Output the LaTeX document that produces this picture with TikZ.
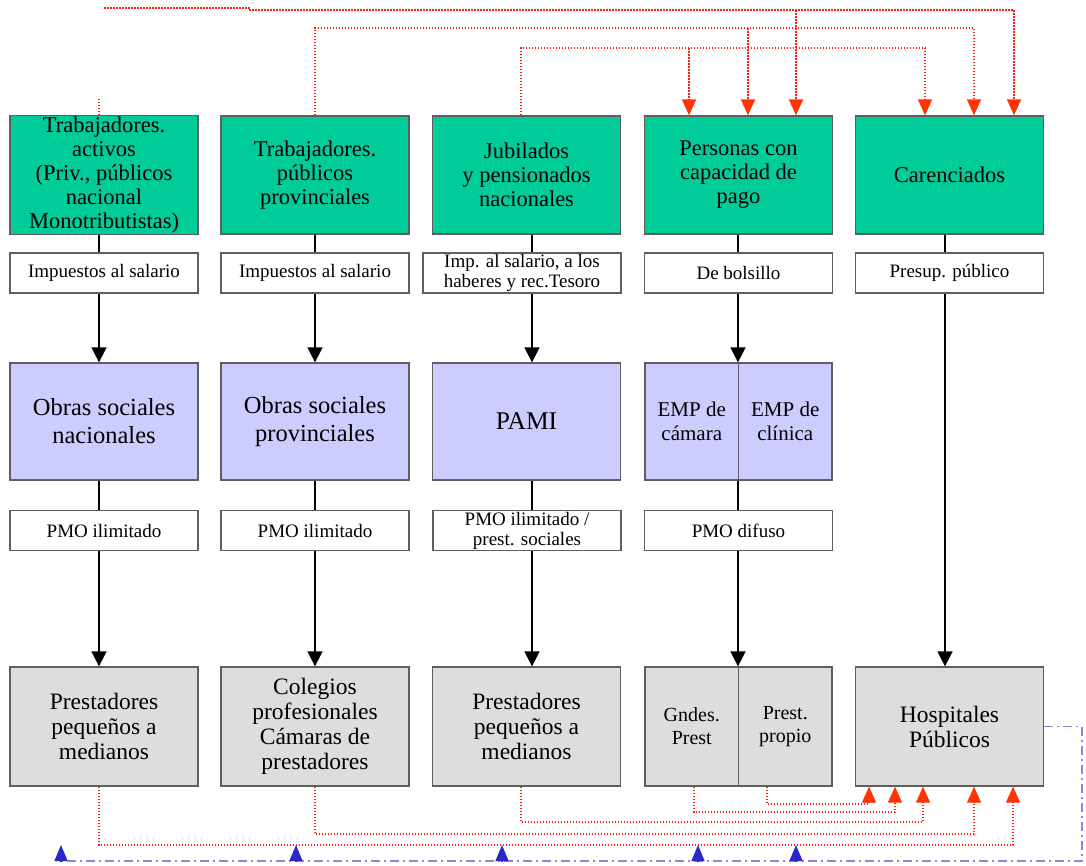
\documentclass[tikz,border=0pt]{standalone}
\usepackage{fontspec}
\setmainfont{Liberation Serif}
\usetikzlibrary{arrows.meta}

\definecolor{payer}{RGB}{0,204,153}
\definecolor{fund}{RGB}{204,204,255}
\definecolor{prov}{RGB}{221,221,221}
\definecolor{edge}{RGB}{95,95,95}
\definecolor{flowred}{RGB}{255,30,20}
\definecolor{arrowred}{RGB}{255,51,0}
\definecolor{backblue}{RGB}{136,136,221}
\definecolor{tipblue}{RGB}{40,40,200}

\tikzset{
  box/.style={draw=edge, line width=1.3pt, rectangle, align=center, inner sep=1pt, text=black},
  payerbox/.style={box, fill=payer, minimum width=188pt, minimum height=118pt,
    font=\fontsize{22.5}{24}\selectfont},
  taxbox/.style={box, fill=white, minimum width=188pt, minimum height=40pt,
    font=\fontsize{19}{20}\selectfont},
  fundbox/.style={box, fill=fund, minimum width=188pt, minimum height=117pt,
    font=\fontsize{24.5}{28}\selectfont},
  halffund/.style={fundbox, minimum width=93.5pt, font=\fontsize{21}{24}\selectfont},
  provbox/.style={box, fill=prov, minimum width=188pt, minimum height=119pt,
    font=\fontsize{23.5}{25}\selectfont},
  halfprov/.style={provbox, minimum width=93.5pt, font=\fontsize{20}{23}\selectfont},
  link/.style={draw=black, line width=1.6pt},
  flow/.style={link, -{Triangle[width=15pt,length=15pt]}},
  reddot/.style={draw=flowred, line width=1.3pt, dash pattern=on 1.5pt off 1.5pt},
  redflow/.style={reddot, -{Triangle[width=14pt,length=16pt,color=arrowred]}},
  blueline/.style={draw=backblue, line width=1.5pt, dash pattern=on 9pt off 4pt on 2pt off 4pt},
  blueflow/.style={draw=tipblue, line width=1.2pt, -{Triangle[width=13pt,length=16pt,color=tipblue]}}
}

\begin{document}
\begin{tikzpicture}[x={(1pt,0)}, y={(0,-1pt)}]
\useasboundingbox (0,0) rectangle (1086,865);

% column guide positions for the vertical connectors
\coordinate (c1) at (99,0);
\coordinate (c2) at (315,0);
\coordinate (c3) at (532,0);
\coordinate (c4) at (738,0);
\coordinate (c5) at (945,0);
\coordinate (r3) at (521,0);
\coordinate (r4a) at (694,0);
\coordinate (r4b) at (767,0);
% drop points of the upper transfers
\coordinate (k1) at (689,0);
\coordinate (k2) at (748,0);
\coordinate (k3) at (796,0);
\coordinate (k4) at (925,0);
\coordinate (k5) at (974,0);
\coordinate (k6) at (1014,0);
% entry points into the public hospitals
\coordinate (m1) at (869,0);
\coordinate (m2) at (895,0);
\coordinate (m3) at (923,0);
\coordinate (m4) at (974,0);
\coordinate (m5) at (1013,0);
% levels of the dotted routes
\coordinate (yA) at (0,10);
\coordinate (yB) at (0,28);
\coordinate (yC) at (0,48);
\coordinate (y1) at (0,845);
\coordinate (y2) at (0,834);
\coordinate (y3) at (0,822);
\coordinate (y4) at (0,812);
\coordinate (y5) at (0,804);

% population groups
\node[payerbox] (g1) at (104,175) {Trabajadores.\\activos\\(Priv., públicos\\nacional\\Monotributistas)};
\node[payerbox] (g2) at (315,175) {Trabajadores.\\públicos\\provinciales};
\node[payerbox] (g3) at (526.5,175) {Jubilados\\y pensionados\\nacionales};
\node[payerbox] (g4) at (738.5,175) {Personas con\\capacidad de\\pago};
\node[payerbox] (g5) at (949.5,175) {Carenciados};

% financing sources
\node[taxbox] (w1a) at (104,273) {Impuestos al salario};
\node[taxbox] (w1b) at (315,273) {Impuestos al salario};
\node[taxbox, minimum width=198pt] (w1c) at (522,273) {Imp. al salario, a los\\haberes y rec.Tesoro};
\node[taxbox] (w1d) at (738.5,273) {De bolsillo};
\node[taxbox] (w1e) at (949.5,273) {Presup. público};

% insurers
\node[fundbox] (f1) at (104,421.5) {Obras sociales\\nacionales};
\node[fundbox] (f2) at (315,421.5) {Obras sociales\\provinciales};
\node[fundbox, font=\fontsize{25.5}{28}\selectfont] (f3) at (526.5,421.5) {PAMI};
\node[halffund] (f4a) at (691.75,421.5) {EMP de\\cámara};
\node[halffund] (f4b) at (785.25,421.5) {EMP de\\clínica};

% benefit packages
\node[taxbox] (w2a) at (104,530.5) {PMO ilimitado};
\node[taxbox] (w2b) at (315,530.5) {PMO ilimitado};
\node[taxbox] (w2c) at (527,530.5) {PMO ilimitado /\\prest. sociales};
\node[taxbox] (w2d) at (738.5,530.5) {PMO difuso};

% providers
\node[provbox] (p1) at (104,726.5) {Prestadores\\pequeños a\\medianos};
\node[provbox] (p2) at (315,726.5) {Colegios\\profesionales\\Cámaras de\\prestadores};
\node[provbox] (p3) at (526.5,726.5) {Prestadores\\pequeños a\\medianos};
\node[halfprov] (p4a) at (691.75,726.5) {Gndes.\\Prest};
\node[halfprov] (p4b) at (785.25,726.5) {Prest.\\propio};
\node[provbox] (p5) at (949.5,726.5) {Hospitales\\Públicos};

% main financing chains
\foreach \g/\w/\f/\v/\p/\c in {g1/w1a/f1/w2a/p1/c1, g2/w1b/f2/w2b/p2/c2, g3/w1c/f3/w2c/p3/c3} {
  \draw[link] (\g.south -| \c) -- (\w.north -| \c);
  \draw[flow] (\w.south -| \c) -- (\f.north -| \c);
  \draw[link] (\f.south -| \c) -- (\v.north -| \c);
  \draw[flow] (\v.south -| \c) -- (\p.north -| \c);
}
\draw[link] (g4.south -| c4) -- (w1d.north -| c4);
\draw[flow] (w1d.south -| c4) -- (f4a.north -| c4);
\draw[link] (f4a.south -| c4) -- (w2d.north -| c4);
\draw[flow] (w2d.south -| c4) -- (p4a.north -| c4);
\draw[link] (g5.south -| c5) -- (w1e.north -| c5);
\draw[flow] (w1e.south -| c5) -- (p5.north -| c5);

% upper dotted transfers
\coordinate (a0) at (104,8);
\coordinate (a1) at (249,8);
\coordinate (t1) at (99,99);
\draw[reddot] (g1.north -| c1) -- (t1);
\draw[reddot] (a0) -- (a1) -- (a1 |- yA);
\draw[redflow] (a1 |- yA) -- (k6 |- yA) -- (g5.north -| k6);
\draw[redflow] (k3 |- yA) -- (g4.north -| k3);
\draw[redflow] (g2.north -| c2) -- (c2 |- yB) -- (k5 |- yB) -- (g5.north -| k5);
\draw[redflow] (k2 |- yB) -- (g4.north -| k2);
\draw[redflow] (g3.north -| r3) -- (r3 |- yC) -- (k4 |- yC) -- (g5.north -| k4);
\draw[redflow] (k1 |- yC) -- (g4.north -| k1);

% lower dotted transfers into the public hospitals
\draw[redflow] (p1.south -| c1) -- (c1 |- y1) -- (m5 |- y1) -- (p5.south -| m5);
\draw[redflow] (p2.south -| c2) -- (c2 |- y2) -- (m4 |- y2) -- (p5.south -| m4);
\draw[redflow] (p3.south -| r3) -- (r3 |- y3) -- (m3 |- y3) -- (p5.south -| m3);
\draw[redflow] (p4a.south -| r4a) -- (r4a |- y4) -- (m2 |- y4) -- (p5.south -| m2);
\draw[redflow] (p4b.south -| r4b) -- (r4b |- y5) -- (m1 |- y5) -- (p5.south -| m1);

% return line from the public hospitals
\coordinate (bR) at (1082,0);
\coordinate (bY) at (0,861);
\coordinate (bL) at (58,861);
\draw[blueline] (p5.east) -- (bR |- p5.east) -- (bR |- bY) -- (bL);
\foreach \x in {61,296,502,698,796} {
  \coordinate (bt) at (\x,861);
  \draw[blueflow] (bt) -- ++(0,-16);
}
\end{tikzpicture}
\end{document}
